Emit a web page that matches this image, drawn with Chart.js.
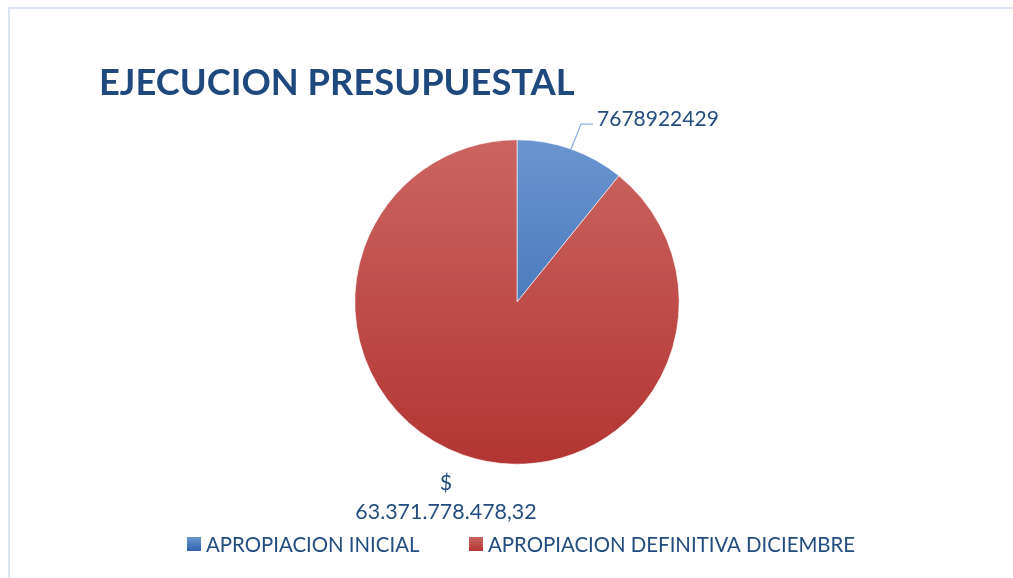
<!DOCTYPE html>
<html><head><meta charset="utf-8">
<script src="https://cdn.jsdelivr.net/npm/chart.js@4/dist/chart.umd.min.js"></script>
<style>html,body{margin:0;padding:0;background:#fff;}#wrap{width:1013px;height:578px;position:relative;}</style>
</head><body><div id="wrap"><canvas id="c" width="1013" height="578"></canvas></div>
<script>
const categories = ['APROPIACION INICIAL', 'APROPIACION DEFINITIVA DICIEMBRE'];
const values = [7678922429, 63371778478.32];
const valueLabels = [['7678922429'], ['$', '63.371.778.478,32']];
const chartTitle = 'EJECUCION PRESUPUESTAL';

const TEXT = '#1f497d';
const FONT = 'Lato, "Open Sans", sans-serif';

function grad(ctx, i) {
  const ch = ctx.chart; const a = ch.chartArea;
  if (!a) return i === 0 ? '#4f81bd' : '#c0504d';
  const g = ch.ctx.createLinearGradient(0, a.top, 0, a.bottom);
  if (i === 0) { g.addColorStop(0, '#6a95cf'); g.addColorStop(1, '#2e62ad'); }
  else { g.addColorStop(0, '#cb6561'); g.addColorStop(1, '#b23533'); }
  return g;
}

const deco = {
  id: 'deco',
  beforeDraw(chart) {
    const c = chart.ctx;
    c.save();
    c.fillStyle = '#fff'; c.fillRect(0, 0, chart.width, chart.height);
    c.strokeStyle = '#dce6f2'; c.lineWidth = 2;
    c.strokeRect(9, 8, 1020, 600);
    c.restore();
  },
  afterDraw(chart) {
    const c = chart.ctx;
    c.save();
    // title
    c.fillStyle = TEXT;
    c.font = 'bold 36.3px ' + FONT;
    c.textBaseline = 'alphabetic'; c.textAlign = 'left';
    c.fillText(chartTitle, 99, 95);
    // data labels
    const meta = chart.getDatasetMeta(0);
    c.fillStyle = '#234d80';
    meta.data.forEach((arc, i) => {
      const mid = (arc.startAngle + arc.endAngle) / 2;
      const px = arc.x + Math.cos(mid) * arc.outerRadius;
      const py = arc.y + Math.sin(mid) * arc.outerRadius;
      if (i === 0) {
        c.font = '21px ' + FONT;
        c.strokeStyle = '#8db3e2'; c.lineWidth = 1.3;
        c.beginPath(); c.moveTo(px, py); c.lineTo(px + 10, py - 25); c.lineTo(px + 22, py - 25); c.stroke();
        c.textAlign = 'left'; c.textBaseline = 'middle';
        c.fillText(valueLabels[0][0], px + 26, py - 30);
      } else {
        c.font = '21.4px ' + FONT;
        c.textAlign = 'center'; c.textBaseline = 'middle';
        c.fillText(valueLabels[1][0], px - 17, py + 28);
        c.fillText(valueLabels[1][1], px - 17, py + 57);
      }
    });
    // legend
    c.font = '20.4px ' + FONT;
    c.textAlign = 'left'; c.textBaseline = 'middle';
    const legX = [187, 469];
    categories.forEach((name, i) => {
      const g = c.createLinearGradient(0, 537, 0, 551);
      if (i === 0) { g.addColorStop(0, '#6a95cf'); g.addColorStop(1, '#2e62ad'); }
      else { g.addColorStop(0, '#cb6561'); g.addColorStop(1, '#b23533'); }
      c.fillStyle = g;
      c.fillRect(legX[i], 537, 14, 14);
      c.fillStyle = '#234d80';
      c.fillText(name, legX[i] + 19, 545);
    });
    c.restore();
  }
};

new Chart(document.getElementById('c'), {
  type: 'pie',
  data: {
    labels: categories,
    datasets: [{
      data: values,
      backgroundColor: (ctx) => grad(ctx, ctx.dataIndex),
      borderColor: '#ffffff',
      borderWidth: 0.6
    }]
  },
  options: {
    responsive: false,
    animation: false,
    layout: { padding: { left: 354.5, right: 333.5, top: 139.5, bottom: 113.5 } },
    plugins: { legend: { display: false }, title: { display: false }, tooltip: { enabled: false } }
  },
  plugins: [deco]
});
</script></body></html>
